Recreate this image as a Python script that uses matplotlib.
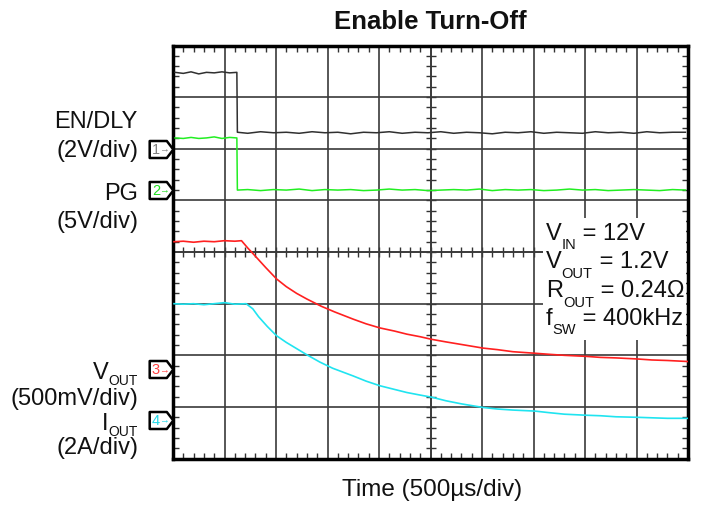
import numpy as np
import matplotlib
matplotlib.use("Agg")
import matplotlib.pyplot as plt
from matplotlib.path import Path
from matplotlib.patches import Rectangle

# scope traces, in divisions (x: 0..10, y: 0..8)
en_t = [0.04, 0.2, 0.35, 0.5, 0.65, 0.8, 0.95, 1.1, 1.24, 1.25,
        1.45, 1.7, 1.95, 2.2, 2.45, 2.7, 2.95, 3.2, 3.45, 3.7, 3.95, 4.2,
        4.45, 4.7, 4.95, 5.2, 5.45, 5.7, 5.95, 6.2, 6.45, 6.7, 6.95, 7.2,
        7.45, 7.7, 7.95, 8.2, 8.45, 8.7, 8.95, 9.2, 9.45, 9.7, 9.95]
en_v = [7.48, 7.46, 7.49, 7.45, 7.48, 7.47, 7.49, 7.47, 7.48, 6.32,
        6.30, 6.33, 6.31, 6.32, 6.30, 6.33, 6.31, 6.32, 6.29, 6.32, 6.31, 6.33,
        6.30, 6.32, 6.31, 6.33, 6.30, 6.32, 6.31, 6.29, 6.32, 6.31, 6.33, 6.30,
        6.32, 6.31, 6.30, 6.33, 6.31, 6.32, 6.30, 6.33, 6.31, 6.32, 6.32]

pg_t = en_t
pg_v = [6.21, 6.20, 6.22, 6.20, 6.21, 6.23, 6.20, 6.22, 6.21, 5.20,
        5.21, 5.19, 5.21, 5.20, 5.22, 5.19, 5.21, 5.20, 5.21, 5.19, 5.20, 5.22,
        5.20, 5.21, 5.19, 5.20, 5.21, 5.20, 5.22, 5.19, 5.21, 5.20, 5.21, 5.19,
        5.20, 5.22, 5.20, 5.21, 5.19, 5.20, 5.21, 5.20, 5.19, 5.21, 5.20]

vout_t = [0.02, 0.2, 0.4, 0.6, 0.8, 1.0, 1.2, 1.33,
          1.45, 1.59, 1.8, 2.01, 2.2, 2.4, 2.6, 2.88, 3.14, 3.5,
          3.75, 4.02, 4.3, 4.54, 4.8, 5.02, 5.3, 5.6,
          6.02, 6.3, 6.6, 7.03, 7.3, 7.6, 8.02, 8.3, 8.6, 9.01, 9.3, 9.6, 10.0]
vout_v = [4.20, 4.21, 4.19, 4.21, 4.20, 4.22, 4.21, 4.22,
          4.08, 3.93, 3.70, 3.48, 3.33, 3.20, 3.09, 2.95, 2.84, 2.70,
          2.61, 2.53, 2.47, 2.41, 2.36, 2.31, 2.26, 2.21,
          2.14, 2.11, 2.07, 2.04, 2.02, 2.00, 1.98, 1.96, 1.95, 1.93, 1.91, 1.90, 1.88]

iout_t = [0.02, 0.2, 0.4, 0.6, 0.8, 1.0, 1.2, 1.42,
          1.55, 1.66, 1.83, 2.01, 2.2, 2.4, 2.6, 2.85, 3.1, 3.5,
          3.75, 4.02, 4.3, 4.54, 4.8, 5.02, 5.3, 5.6,
          6.02, 6.3, 6.6, 7.03, 7.3, 7.6, 8.02, 8.3, 8.6, 9.01, 9.3, 9.6, 10.0]
iout_v = [3.00, 2.99, 3.00, 2.98, 3.00, 3.02, 2.99, 3.00,
          2.90, 2.75, 2.56, 2.38, 2.25, 2.13, 2.01, 1.87, 1.75, 1.60,
          1.50, 1.41, 1.34, 1.28, 1.23, 1.19, 1.12, 1.06,
          0.99, 0.96, 0.94, 0.92, 0.89, 0.86, 0.84, 0.83, 0.81, 0.80, 0.79, 0.78, 0.78]

# channel ground markers
ch_names = ["1", "2", "3", "4"]
ch_ground = [6.0, 5.21, 1.73, 0.75]
ch_text_colors = ["#808080", "#22dd22", "#ff4040", "#20d8e8"]

trace_colors = ["#303030", "#22ee22", "#ff2020", "#20e4f0"]

# left labels: (main, subscript), baseline in pixels
left_labels = [("EN/DLY", ""), ("(2V/div)", ""), ("PG", ""),
               ("(5V/div)", ""), ("V", "OUT"), ("(500mV/div)", ""),
               ("I", "OUT"), ("(2A/div)", "")]
left_baselines = [128.5, 156.5, 200.5, 228.5, 379.5, 405.5, 430, 454]

box_lines = [("V", "IN", " = 12V"), ("V", "OUT", " = 1.2V"),
             ("R", "OUT", " = 0.24Ω"), ("f", "SW", " = 400kHz")]
box_baselines = [239.5, 268.3, 297.3, 325]

W, H = 704, 506


def put_parts(fig, renderer, x, base, parts, ha='left'):
    """lay out (text, size, drop_px) pieces side by side at pixel coords"""
    texts = []
    for s, size, drop in parts:
        if not s:
            continue
        t = fig.text(0, 0, s, fontsize=size, va='baseline', ha='left',
                     color='#111111', zorder=10)
        texts.append((t, drop))
    widths = [t.get_window_extent(renderer).width for t, d in texts]
    if ha == 'right':
        x = x - sum(widths)
    for (t, drop), w in zip(texts, widths):
        t.set_position((x / W, 1 - (base + drop) / H))
        x += w


def main():
    plt.rcParams['font.family'] = ['Liberation Sans', 'DejaVu Sans']

    fig = plt.figure(figsize=(W / 100, H / 100), dpi=100)
    renderer = fig.canvas.get_renderer()
    x0, x1, y0, y1 = 173, 688, 46.5, 459.6
    ax = fig.add_axes([x0 / W, 1 - y1 / H, (x1 - x0) / W, (y1 - y0) / H])
    ax.set_xlim(0, 10)
    ax.set_ylim(0, 8)

    # grid and ticks
    ax.set_xticks(range(11))
    ax.set_yticks(range(9))
    ax.set_xticks(np.arange(0, 10.01, 0.2), minor=True)
    ax.set_yticks(np.arange(0, 8.01, 0.2), minor=True)
    ax.tick_params(which='major', length=0, labelbottom=False, labelleft=False)
    ax.tick_params(which='minor', direction='in', length=4, width=1,
                   top=True, right=True, color='#333333')
    ax.grid(True, which='major', color='#3a3a3a', linewidth=1.2)
    for s in ax.spines.values():
        s.set_linewidth(2.5)
        s.set_color('black')

    # centre lines with small ticks
    secx = ax.secondary_xaxis(0.5)
    secx.set_xticks(np.arange(0, 10.01, 0.2), minor=True)
    secx.set_xticks([])
    secx.tick_params(which='minor', direction='inout', length=7, width=1,
                     labeltop=False, labelbottom=False, color='#333333')
    secy = ax.secondary_yaxis(0.5)
    secy.set_yticks(np.arange(0, 8.01, 0.2), minor=True)
    secy.set_yticks([])
    secy.tick_params(which='minor', direction='inout', length=7, width=1,
                     labelleft=False, labelright=False, color='#333333')
    for s in list(secx.spines.values()) + list(secy.spines.values()):
        s.set_linewidth(1.2)
        s.set_color('#3a3a3a')

    # traces
    ax.plot(en_t, en_v, color=trace_colors[0], lw=1.1, zorder=4)
    ax.plot(pg_t, pg_v, color=trace_colors[1], lw=1.1, zorder=4)
    ax.plot(vout_t, vout_v, color=trace_colors[2], lw=1.2, zorder=4)
    ax.plot(iout_t, iout_v, color=trace_colors[3], lw=1.2, zorder=4)

    # white box for the conditions text
    bx0 = (543 - x0) / (x1 - x0)
    by0 = (y1 - 341) / (y1 - y0)
    by1 = (y1 - 219) / (y1 - y0)
    ax.add_patch(Rectangle((bx0, by0), 1 - bx0 - 0.004, by1 - by0,
                           transform=ax.transAxes, facecolor='white',
                           edgecolor='none', zorder=3))
    for (m, sub, rest), b in zip(box_lines, box_baselines):
        put_parts(fig, renderer, 546, b,
                  [(m, 17, 0), (sub, 10.5, 9.5), (rest, 17, 0)])

    # channel markers
    verts = [(-1, 0.72), (0.45, 0.72), (1, 0), (0.45, -0.72), (-1, -0.72), (-1, 0.72)]
    pent = Path(verts, [Path.MOVETO] + [Path.LINETO] * 4 + [Path.CLOSEPOLY])
    px = (161 - x0) / (x1 - x0) * 10
    for name, g, c in zip(ch_names, ch_ground, ch_text_colors):
        ax.plot([px], [g], marker=pent, markersize=17, markerfacecolor='white',
                markeredgecolor='black', markeredgewidth=1.8, clip_on=False,
                linestyle='none', zorder=6)
        ax.annotate(name, xy=(px, g), xytext=(-5, 0), textcoords='offset pixels',
                    color=c, fontsize=10.5, ha='center', va='center',
                    annotation_clip=False, zorder=7)
        ax.annotate("→", xy=(px, g), xytext=(3, 0), textcoords='offset pixels',
                    color=c, fontsize=7, ha='center', va='center',
                    annotation_clip=False, zorder=7)

    # labels
    for (m, sub), b in zip(left_labels, left_baselines):
        put_parts(fig, renderer, 138, b, [(m, 17, 0), (sub, 10, 5.5)],
                  ha='right')
    fig.text(430 / W, 1 - 29.3 / H, "Enable Turn-Off", fontsize=18.5,
             fontweight='bold', ha='center', va='baseline', color='#111111')
    fig.text(432 / W, 1 - 496.5 / H, "Time (500µs/div)", fontsize=17.5,
             ha='center', va='baseline', color='#111111')

    fig.savefig("out.png", dpi=100, facecolor='white')


if __name__ == "__main__":
    main()
